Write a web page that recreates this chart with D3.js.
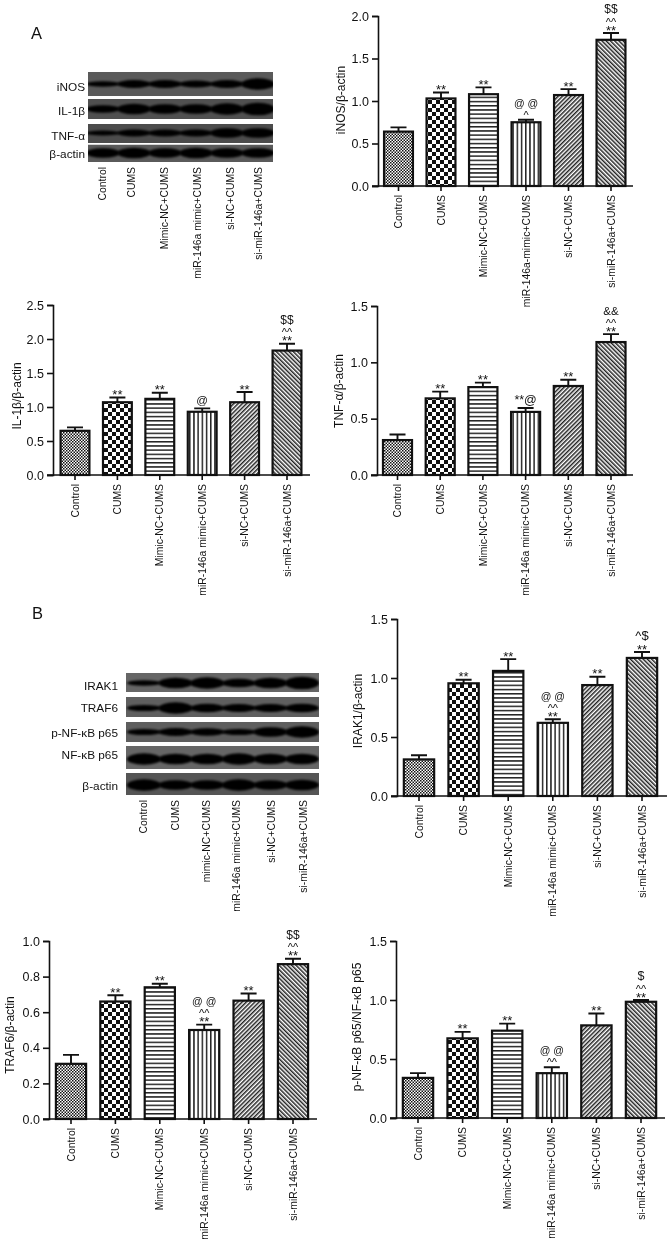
<!DOCTYPE html>
<html>
<head>
<meta charset="utf-8">
<script src="https://cdn.jsdelivr.net/npm/d3@7"></script>
<style>
body { margin: 0; background: #fff; }
text { font-family: "Liberation Sans", Arial, sans-serif; fill: #111; }
</style>
</head>
<body>
<div id="wrapper"></div>
<script>
// groups
var categories = ["Control", "CUMS", "Mimic-NC+CUMS", "miR-146a mimic+CUMS", "si-NC+CUMS", "si-miR-146a+CUMS"];
var categoriesInos = ["Control", "CUMS", "Mimic-NC+CUMS", "miR-146a-mimic+CUMS", "si-NC+CUMS", "si-miR-146a+CUMS"];
var categoriesBlotA = categories;
var categoriesBlotB = ["Control", "CUMS", "mimic-NC+CUMS", "miR-146a mimic+CUMS", "si-NC+CUMS", "si-miR-146a+CUMS"];

// bar heights and error bars
var inos = [0.64, 1.03, 1.08, 0.75, 1.07, 1.72];
var inosErr = [0.05, 0.07, 0.08, 0.03, 0.07, 0.08];
var il1b = [0.65, 1.07, 1.12, 0.93, 1.07, 1.83];
var il1bErr = [0.05, 0.07, 0.09, 0.05, 0.15, 0.10];
var tnfa = [0.31, 0.68, 0.78, 0.56, 0.79, 1.18];
var tnfaErr = [0.05, 0.06, 0.04, 0.035, 0.055, 0.07];
var irak1 = [0.31, 0.955, 1.06, 0.62, 0.94, 1.17];
var irak1Err = [0.035, 0.03, 0.10, 0.03, 0.07, 0.05];
var traf6 = [0.31, 0.66, 0.74, 0.50, 0.665, 0.87];
var traf6Err = [0.05, 0.035, 0.02, 0.03, 0.04, 0.03];
var pnf = [0.34, 0.675, 0.74, 0.38, 0.785, 0.985];
var pnfErr = [0.04, 0.055, 0.06, 0.05, 0.10, 0.015];

// significance marks, bottom to top over each bar
var inosMarks = [[], ["**"], ["**"], ["^", "@ @"], ["**"], ["**", "^^", "$$"]];
var il1bMarks = [[], ["**"], ["**"], ["@"], ["**"], ["**", "^^", "$$"]];
var tnfaMarks = [[], ["**"], ["**"], ["**@"], ["**"], ["**", "^^", "&&"]];
var irak1Marks = [[], ["**"], ["**"], ["**", "^^", "@ @"], ["**"], ["**", "^$"]];
var traf6Marks = [[], ["**"], ["**"], ["**", "^^", "@ @"], ["**"], ["**", "^^", "$$"]];
var pnfMarks = [[], ["**"], ["**"], ["^^", "@ @"], ["**"], ["**", "^^", "$"]];

// tick labels
var ticks20 = [0, 0.5, 1.0, 1.5, 2.0];
var ticks25 = [0, 0.5, 1.0, 1.5, 2.0, 2.5];
var ticks15 = [0, 0.5, 1.0, 1.5];
var ticks10 = [0, 0.2, 0.4, 0.6, 0.8, 1.0];

// western blot band thickness per lane
var blotInos = [4, 6.5, 6.5, 5.5, 6.5, 10];
var blotIl1b = [6, 9, 8, 8, 10, 11];
var blotTnfa = [3.5, 5.5, 5.5, 5.5, 8, 8];
var blotActinA = [8, 9, 8, 9, 8, 8];
var blotIrak1 = [4, 9, 10, 7, 9, 11];
var blotTraf6 = [4.5, 10, 7, 6.5, 6.5, 7];
var blotPnf = [4.5, 6.5, 6, 4.5, 8, 10];
var blotNf = [10, 9, 9, 10, 9, 9];
var blotActinB = [10, 8, 8, 10, 8, 9];

var panels = [
  {label: "iNOS/β-actin", cats: categoriesInos, vals: inos, errs: inosErr, marks: inosMarks, ticks: ticks20, x0: 378, xEnd: 633, c0: 398.5, c5: 611, top: 16, bottom: 186, lx: 344.5, ly: 100},
  {label: "IL-1β/β-actin", cats: categories, vals: il1b, errs: il1bErr, marks: il1bMarks, ticks: ticks25, x0: 53, xEnd: 310, c0: 75, c5: 287, top: 305, bottom: 475, lx: 21, ly: 396},
  {label: "TNF-α/β-actin", cats: categories, vals: tnfa, errs: tnfaErr, marks: tnfaMarks, ticks: ticks15, x0: 377, xEnd: 633, c0: 397.5, c5: 611, top: 306, bottom: 475, lx: 343, ly: 391},
  {label: "IRAK1/β-actin", cats: categories, vals: irak1, errs: irak1Err, marks: irak1Marks, ticks: ticks15, x0: 397, xEnd: 667, c0: 419, c5: 642, top: 619, bottom: 796, lx: 362, ly: 711},
  {label: "TRAF6/β-actin", cats: categories, vals: traf6, errs: traf6Err, marks: traf6Marks, ticks: ticks10, x0: 49, xEnd: 317, c0: 71, c5: 293, top: 941, bottom: 1119, lx: 14, ly: 1035},
  {label: "p-NF-κB p65/NF-κB p65", cats: categories, vals: pnf, errs: pnfErr, marks: pnfMarks, ticks: ticks15, x0: 396, xEnd: 665, c0: 418, c5: 641, top: 941, bottom: 1118, lx: 361, ly: 1027}
];

var blots = [
  {cats: categoriesBlotA, catTop: 167, catX: [102, 131, 164, 197, 230, 258], lanes: [103, 133, 165, 197, 227, 258], x0: 88, x1: 273, labelX: 85, fs: 11.8, rows: [
    {name: "iNOS", bands: blotInos, y0: 72, y1: 96, cy: 84, ty: 87, shade: "#5a5a5a"},
    {name: "IL-1β", bands: blotIl1b, y0: 99, y1: 119, cy: 109, ty: 111, shade: "#505050"},
    {name: "TNF-α", bands: blotTnfa, y0: 124, y1: 143, cy: 133, ty: 136, shade: "#4c4c4c"},
    {name: "β-actin", bands: blotActinA, y0: 144.5, y1: 162, cy: 153, ty: 154, shade: "#5a5a5a"}
  ]},
  {cats: categoriesBlotB, catTop: 800, catX: [143, 175, 206, 236, 271, 303], lanes: [144, 176, 208, 240, 272, 302], x0: 126, x1: 319, labelX: 118, fs: 11.8, rows: [
    {name: "IRAK1", bands: blotIrak1, y0: 673, y1: 692, cy: 683, ty: 686, shade: "#666"},
    {name: "TRAF6", bands: blotTraf6, y0: 697, y1: 717, cy: 708, ty: 708, shade: "#5f5f5f"},
    {name: "p-NF-κB p65", bands: blotPnf, y0: 722, y1: 742, cy: 732, ty: 733, shade: "#5e5e5e"},
    {name: "NF-κB p65", bands: blotNf, y0: 746, y1: 769, cy: 759, ty: 755, shade: "#666"},
    {name: "β-actin", bands: blotActinB, y0: 773, y1: 795, cy: 785, ty: 786, shade: "#555"}
  ]}
];

var svg = d3.select("#wrapper").append("svg")
  .attr("width", 670)
  .attr("height", 1245)
  .style("display", "block")
  .style("filter", "blur(0.35px)");

var defs = svg.append("defs");

defs.append("filter").attr("id", "soft")
  .attr("x", "-20%").attr("y", "-60%").attr("width", "140%").attr("height", "220%")
  .append("feGaussianBlur").attr("stdDeviation", 1.1);

// bar fills, one per group
function addPattern(id, w, h, draw, tf) {
  var p = defs.append("pattern").attr("id", id)
    .attr("patternUnits", "userSpaceOnUse")
    .attr("width", w).attr("height", h);
  if (tf) p.attr("patternTransform", tf);
  p.append("rect").attr("width", w).attr("height", h).attr("fill", "#fff");
  draw(p);
}
function checks(size) {
  return function (p) {
    p.append("rect").attr("width", size).attr("height", size).attr("fill", "#111");
    p.append("rect").attr("x", size).attr("y", size).attr("width", size).attr("height", size).attr("fill", "#111");
  };
}
addPattern("fill0", 3, 3, checks(1.5));
addPattern("fill1", 8, 8, checks(4));
addPattern("fill2", 4.2, 4.2, function (p) {
  p.append("rect").attr("width", 4.2).attr("height", 1.5).attr("fill", "#222");
});
addPattern("fill3", 4.2, 4.2, function (p) {
  p.append("rect").attr("width", 1.5).attr("height", 4.2).attr("fill", "#222");
});
addPattern("fill4", 3, 3, function (p) {
  p.append("rect").attr("width", 1.5).attr("height", 3).attr("fill", "#222");
}, "rotate(45)");
addPattern("fill5", 3, 3, function (p) {
  p.append("rect").attr("width", 1.5).attr("height", 3).attr("fill", "#222");
}, "rotate(-45)");

// marks are stacked by glyph centre: half height, font size, baseline drop from centre
var markHalf = {"top": 3, "**": 3, "^": 3.5, "^^": 4, "^$": 7, "@": 5, "@ @": 6, "**@": 5, "$": 7, "$$": 7, "&&": 6};
var markSize = {"**": 13, "^": 11, "^^": 11, "^$": 13, "@": 11.5, "@ @": 10.5, "**@": 12.5, "$": 12.5, "$$": 12, "&&": 11.5};
var markDrop = {"**": 7.5, "^": 5.5, "^^": 5.5, "^$": 4.4, "@": 3.6, "@ @": 3.4, "**@": 4, "$": 4.4, "$$": 4.2, "&&": 4.2};

panels.forEach(function (d) {
  var step = (d.c5 - d.c0) / 5;
  var x = d3.scaleBand()
    .domain(d.cats)
    .range([d.c0 - step / 2, d.c5 + step / 2])
    .paddingInner(0.32)
    .paddingOuter(0.16);
  var y = d3.scaleLinear()
    .domain([0, d3.max(d.ticks)])
    .range([d.bottom, d.top]);

  var g = svg.append("g");

  g.selectAll(".err")
    .data(d.cats)
    .enter()
    .append("path")
    .attr("d", function (c, i) {
      var cx = x(c) + x.bandwidth() / 2;
      var t = y(d.vals[i] + d.errs[i]);
      return "M" + cx + "," + y(d.vals[i]) + "V" + t + "M" + (cx - 8) + "," + t + "H" + (cx + 8);
    })
    .attr("fill", "none")
    .attr("stroke", "#111")
    .attr("stroke-width", 1.9);

  g.selectAll(".bar")
    .data(d.cats)
    .enter()
    .append("rect")
    .attr("x", function (c) { return x(c); })
    .attr("y", function (c, i) { return y(d.vals[i]); })
    .attr("width", x.bandwidth())
    .attr("height", function (c, i) { return d.bottom - y(d.vals[i]); })
    .attr("fill", function (c, i) { return "url(#fill" + i + ")"; })
    .attr("stroke", "#111")
    .attr("stroke-width", 2.2);

  // significance marks
  d.cats.forEach(function (c, i) {
    var cx = x(c) + x.bandwidth() / 2;
    var centre = y(d.vals[i] + d.errs[i]);
    var prev = "top";
    d.marks[i].forEach(function (m) {
      centre -= markHalf[prev] + markHalf[m];
      g.append("text")
        .attr("x", cx)
        .attr("y", centre + markDrop[m])
        .attr("text-anchor", "middle")
        .attr("font-size", markSize[m])
        .text(m);
      prev = m;
    });
  });

  var yAxis = g.append("g")
    .attr("transform", "translate(" + d.x0 + ",0)")
    .call(d3.axisLeft(y).tickValues(d.ticks).tickSize(6).tickFormat(d3.format(".1f")));
  yAxis.selectAll("text").attr("font-size", 12.5).attr("x", -9);

  var xAxis = g.append("g")
    .attr("transform", "translate(0," + d.bottom + ")")
    .call(d3.axisBottom(x).tickSize(5));
  xAxis.select(".domain").remove();
  xAxis.selectAll("text")
    .attr("font-size", 10.4)
    .attr("transform", "rotate(-90)")
    .attr("text-anchor", "end")
    .attr("x", -9)
    .attr("y", 0)
    .attr("dy", "0.35em");

  g.append("path")
    .attr("d", "M" + (d.x0 - 6) + "," + d.bottom + "H" + d.xEnd)
    .attr("stroke", "#111")
    .attr("stroke-width", 1.7);

  g.selectAll(".domain, .tick line")
    .attr("stroke", "#111")
    .attr("stroke-width", 1.6);

  g.append("text")
    .attr("transform", "translate(" + d.lx + "," + d.ly + ") rotate(-90)")
    .attr("text-anchor", "middle")
    .attr("font-size", 12)
    .text(d.label);
});

// the blots
blots.forEach(function (b, n) {
  var g = svg.append("g");
  var laneW = (b.lanes[5] - b.lanes[0]) / 5;
  var lane = d3.scalePoint().domain(d3.range(6)).range([b.lanes[0], b.lanes[5]]);

  b.rows.forEach(function (r, k) {
    var clipId = "clip" + n + "-" + k;
    defs.append("clipPath").attr("id", clipId)
      .append("rect")
      .attr("x", b.x0).attr("y", r.y0)
      .attr("width", b.x1 - b.x0).attr("height", r.y1 - r.y0);

    var row = g.append("g").attr("clip-path", "url(#" + clipId + ")");
    row.append("rect")
      .attr("x", b.x0).attr("y", r.y0)
      .attr("width", b.x1 - b.x0).attr("height", r.y1 - r.y0)
      .attr("fill", r.shade);
    row.selectAll("ellipse")
      .data(r.bands)
      .enter()
      .append("ellipse")
      .attr("cx", function (t, i) { return lane(i); })
      .attr("cy", r.cy)
      .attr("rx", laneW * 0.54)
      .attr("ry", function (t) { return t / 2 + 0.8; })
      .attr("fill", "#050505")
      .attr("filter", "url(#soft)");

    g.append("text")
      .attr("x", b.labelX)
      .attr("y", r.ty)
      .attr("dy", "0.35em")
      .attr("text-anchor", "end")
      .attr("font-size", b.fs)
      .text(r.name);
  });

  g.selectAll(".cat")
    .data(b.cats)
    .enter()
    .append("text")
    .attr("transform", function (c, i) { return "translate(" + b.catX[i] + "," + b.catTop + ") rotate(-90)"; })
    .attr("dy", "0.35em")
    .attr("text-anchor", "end")
    .attr("font-size", 10.4)
    .text(function (c) { return c; });
});

svg.append("text").attr("x", 31).attr("y", 39).attr("font-size", 16.5).text("A");
svg.append("text").attr("x", 32).attr("y", 619).attr("font-size", 16.5).text("B");
</script>
</body>
</html>
